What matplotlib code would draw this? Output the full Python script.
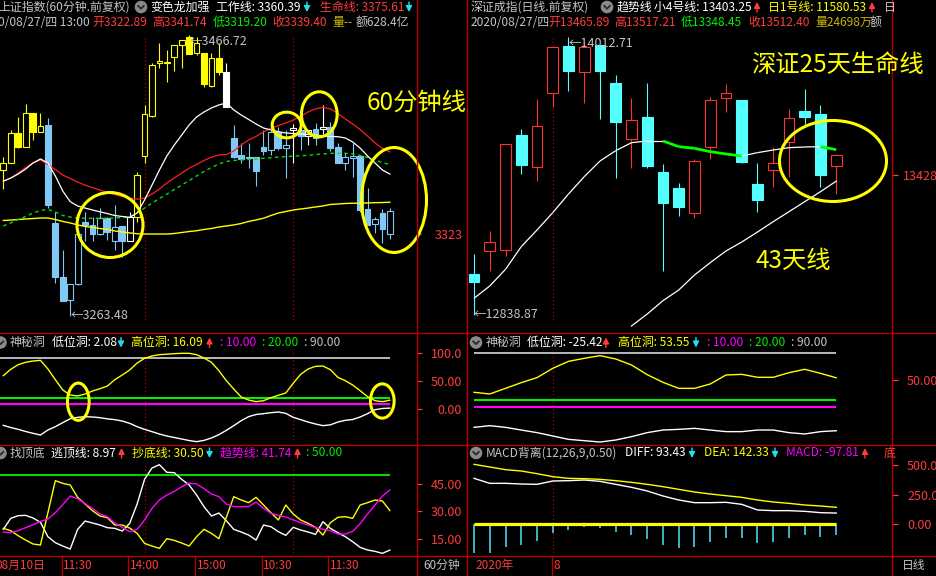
import numpy as np
import matplotlib
matplotlib.use('Agg')
import matplotlib.pyplot as plt
from matplotlib.patches import Ellipse, Circle, Rectangle
from matplotlib.collections import LineCollection

plt.rcParams['font.family'] = ['Noto Sans CJK SC', 'DejaVu Sans']
plt.rcParams['axes.unicode_minus'] = False

# ---------------- data: 上证指数 60分钟 ----------------
sh_open = [3369.1, 3374.3, 3395.6, 3385.4, 3410.0, 3396.8, 3401.6, 3330.5, 3291.9, 3275.0,
           3286.4, 3331.2, 3329.3, 3322.8, 3334.1, 3317.9, 3328.6, 3317.9, 3335.3, 3379.4,
           3408.1, 3446.2, 3446.7, 3451.0, 3459.5, 3465.0, 3453.4, 3453.4, 3430.0, 3449.8,
           3440.2, 3391.9, 3379.9, 3378.2, 3378.7, 3385.9, 3383.5, 3396.8, 3384.9, 3398.0,
           3398.0, 3393.6, 3398.5, 3398.7, 3400.4, 3385.9, 3374.3, 3377.7, 3379.2, 3340.6,
           3330.0, 3337.7, 3322.89]
sh_high = [3378.7, 3398.0, 3407.1, 3416.8, 3410.0, 3410.0, 3406.4, 3338.9, 3311.2, 3286.4,
           3325.7, 3338.9, 3335.3, 3341.3, 3335.3, 3343.7, 3328.6, 3338.9, 3367.8, 3416.1,
           3446.2, 3460.7, 3455.9, 3459.5, 3463.1, 3466.72, 3465.5, 3453.4, 3453.4, 3461.1,
           3446.2, 3401.6, 3388.3, 3388.3, 3378.7, 3398.0, 3398.0, 3400.4, 3398.0, 3402.3,
           3400.4, 3398.0, 3402.8, 3416.1, 3404.0, 3388.3, 3381.1, 3388.3, 3379.9, 3355.8,
           3335.3, 3340.8, 3341.74]
sh_low = [3355.1, 3373.9, 3384.7, 3385.4, 3390.7, 3396.8, 3341.3, 3287.1, 3274.6, 3263.48,
          3285.9, 3317.9, 3317.9, 3322.0, 3318.4, 3311.2, 3306.4, 3317.9, 3331.7, 3374.3,
          3407.6, 3442.6, 3433.0, 3440.9, 3442.6, 3453.0, 3452.2, 3429.3, 3429.3, 3437.8,
          3414.4, 3378.0, 3373.9, 3370.3, 3357.5, 3379.9, 3379.9, 3383.5, 3363.0, 3373.9,
          3383.5, 3387.1, 3387.1, 3395.1, 3383.0, 3374.3, 3369.1, 3364.2, 3338.9, 3329.3,
          3323.2, 3316.0, 3319.20]
sh_close = [3373.9, 3396.0, 3385.4, 3410.0, 3396.8, 3401.1, 3343.7, 3291.9, 3274.6, 3286.4,
            3322.8, 3329.3, 3322.8, 3334.1, 3324.0, 3328.1, 3317.9, 3335.3, 3365.4, 3409.3,
            3445.0, 3447.9, 3447.4, 3459.5, 3463.1, 3453.0, 3460.7, 3431.2, 3449.8, 3440.2,
            3414.8, 3378.7, 3376.8, 3377.5, 3368.6, 3383.0, 3396.8, 3384.7, 3386.9, 3399.2,
            3393.6, 3398.0, 3391.9, 3399.9, 3384.7, 3374.3, 3378.7, 3379.4, 3340.1, 3329.3,
            3333.4, 3326.1, 3339.40]
# 变色龙 colour of each candle: y=yellow, b=blue, w=white
sh_color = list('yyyyyybbbbbbbbbbbwyyyyyyyyyyyywbbbbbbbbwbwbwbbbbbbbbb')
sh_work = [3361.0, 3363.2, 3366.1, 3369.7, 3374.1, 3377.0, 3374.1, 3364.7, 3353.8, 3346.1,
           3343.0, 3341.5, 3340.1, 3338.8, 3337.5, 3336.1, 3335.4, 3334.8, 3337.9, 3347.3,
           3358.1, 3369.0, 3379.2, 3387.1, 3394.3, 3401.6, 3407.4, 3411.0, 3413.9, 3416.1,
           3417.5, 3412.5, 3408.8, 3405.6, 3402.3, 3399.4, 3398.0, 3396.7, 3395.8, 3395.4,
           3395.1, 3394.7, 3394.3, 3393.6, 3393.3, 3393.1, 3392.2, 3389.3, 3384.9, 3379.2,
           3374.1, 3369.0, 3366.1]
sh_life = [3360.7, 3363.2, 3366.8, 3370.8, 3374.1, 3376.3, 3373.0, 3369.4, 3365.4, 3362.9,
           3360.3, 3358.1, 3356.3, 3354.5, 3352.7, 3351.3, 3349.8, 3348.7, 3348.0, 3348.7,
           3351.6, 3355.3, 3359.6, 3363.2, 3366.8, 3370.4, 3373.0, 3375.9, 3378.4, 3379.9,
           3380.2, 3382.8, 3387.1, 3390.8, 3393.3, 3396.7, 3399.1, 3401.2, 3403.0, 3405.2,
           3407.8, 3411.0, 3413.2, 3414.4, 3413.2, 3409.9, 3406.0, 3402.3, 3398.3, 3393.6,
           3388.6, 3384.6, 3382.1]
sh_ma_green = [3328.5, 3330.7, 3333.2, 3335.4, 3337.9, 3339.7, 3340.5, 3338.7, 3336.1, 3335.0,
               3334.3, 3334.1, 3334.1, 3334.1, 3334.1, 3334.3, 3334.6, 3335.0, 3337.9, 3341.5,
               3345.1, 3348.4, 3351.6, 3354.9, 3358.1, 3361.4, 3364.7, 3367.9, 3370.8, 3373.4,
               3375.2, 3375.9, 3376.3, 3376.6, 3377.0, 3377.5, 3377.9, 3378.3, 3378.7, 3379.0,
               3379.4, 3379.7, 3380.2, 3380.6, 3381.1, 3381.1, 3381.1, 3380.7, 3379.5, 3378.1,
               3376.3, 3374.4, 3373.0]
sh_ma_yellow = [3332.5, 3332.8, 3333.2, 3333.6, 3333.9, 3334.3, 3334.3, 3333.2, 3331.8, 3330.7,
                3329.3, 3328.2, 3327.5, 3326.7, 3326.0, 3324.9, 3324.2, 3323.5, 3322.9, 3322.7,
                3322.7, 3322.7, 3322.7, 3323.1, 3323.8, 3324.5, 3325.1, 3326.0, 3326.7, 3327.8,
                3328.5, 3329.3, 3330.3, 3331.8, 3332.9, 3334.1, 3336.1, 3337.9, 3339.0, 3340.1,
                3340.8, 3341.5, 3342.3, 3343.0, 3344.1, 3344.4, 3344.8, 3345.0, 3345.0, 3345.2,
                3345.4, 3345.5, 3345.7]
# 神秘洞
sh_high_hole = [59.4, 70.6, 78.8, 83.0, 85.3, 86.5, 71.2, 52.3, 34.1, 25.2,
                23.5, 27.0, 32.3, 36.4, 41.1, 52.3, 60.6, 69.4, 81.8, 90.0,
                94.2, 96.5, 97.4, 98.3, 98.9, 98.9, 96.5, 90.6, 83.0, 68.2,
                50.6, 35.8, 21.7, 16.4, 13.5, 15.2, 20.5, 24.7, 28.8, 45.9,
                61.8, 71.2, 75.9, 76.5, 70.0, 56.5, 50.6, 42.9, 32.9, 22.3,
                15.2, 13.5, 16.09]
sh_low_hole = [-28.4, -32.2, -35.4, -39.2, -42.5, -45.4, -36.6, -30.7, -23.6, -16.6,
               -14.2, -13.0, -13.6, -14.8, -16.9, -18.3, -20.7, -24.8, -30.7, -35.4,
               -39.5, -43.7, -47.2, -49.8, -52.5, -55.2, -57.2, -54.9, -50.7, -44.8,
               -37.2, -28.9, -20.1, -13.0, -9.2, -7.7, -6.0, -4.8, -7.2, -14.2,
               -18.3, -22.5, -26.0, -28.9, -27.5, -22.5, -19.5, -18.0, -13.6, -7.7,
               -0.7, 1.4, 2.08]
# 找顶底
sh_escape = [20.25, 26.25, 27.70, 27.88, 26.43, 24.07, 16.26, 12.99, 11.17, 9.54,
             20.25, 24.79, 23.70, 22.61, 21.16, 20.80, 19.34, 23.52, 34.05, 47.49,
             53.67, 55.48, 51.31, 51.12, 47.49, 44.40, 38.96, 32.60, 27.52, 29.15,
             24.97, 20.25, 18.80, 17.16, 14.44, 22.61, 21.70, 18.98, 16.98, 21.34,
             19.89, 18.80, 17.53, 24.43, 20.80, 18.44, 16.26, 13.53, 10.45, 9.0,
             8.27, 7.18, 8.97]
sh_bottom = [20.80, 19.53, 16.80, 14.44, 12.26, 11.72, 29.33, 46.77, 45.31, 44.40,
             37.69, 34.05, 30.42, 27.52, 26.61, 22.61, 22.61, 20.98, 18.07, 12.62,
             11.17, 9.90, 15.17, 14.26, 12.81, 11.17, 16.26, 20.25, 18.07, 15.17,
             26.79, 38.05, 36.23, 34.78, 37.69, 33.51, 29.33, 25.34, 33.51, 28.60,
             25.34, 23.52, 21.34, 17.16, 23.88, 26.79, 27.15, 26.25, 33.51, 34.78,
             36.23, 35.69, 30.50]
sh_trend = [18.80, 18.44, 19.53, 21.16, 22.79, 24.61, 25.88, 29.33, 33.69, 38.41,
            36.96, 34.23, 31.69, 28.60, 27.15, 23.70, 21.34, 18.98, 20.25, 25.34,
            31.69, 36.23, 38.96, 40.95, 43.50, 45.49, 44.95, 42.41, 39.50, 38.05,
            34.05, 32.60, 32.60, 32.60, 35.14, 31.69, 28.97, 27.88, 26.97, 25.34,
            23.88, 22.61, 21.16, 20.25, 19.53, 17.71, 17.71, 19.16, 23.34, 28.60,
            33.51, 38.41, 41.74]
sh_week_marks = [19, 39]
sh_time_labels = ['08月10日', '11:30', '14:00', '15:00', '10:30', '11:30']

# ---------------- data: 深证成指 日线 ----------------
sz_open = [13010.3, 13108.8, 13113.0, 13598.0, 13464.4, 13773.7, 13973.3, 13862.3, 13977.5, 13815.9,
           13579.7, 13672.5, 13440.5, 13373.0, 13270.4, 13546.0, 13752.6, 13745.6, 13391.3, 13450.4,
           13567.0, 13699.2, 13686.5, 13465.89]
sz_high = [13096.1, 13193.1, 13558.6, 13623.3, 13749.8, 13967.7, 14012.71, 13991.6, 13977.5, 13851.0,
           13752.6, 13815.9, 13475.7, 13394.1, 13496.8, 13759.6, 13813.1, 13745.6, 13478.5, 13546.0,
           13706.2, 13790.6, 13724.5, 13517.21]
sz_low = [12838.87, 13025.8, 13089.1, 13433.5, 13405.4, 13717.5, 13783.5, 13734.3, 13665.5, 13415.2,
          13460.2, 13457.4, 13025.8, 13256.4, 13246.5, 13495.3, 13696.4, 13478.5, 13274.6, 13377.3,
          13422.2, 13633.1, 13380.1, 13348.45]
sz_close = [12979.4, 13145.3, 13558.6, 13471.5, 13637.3, 13967.7, 13867.9, 13967.7, 13867.9, 13654.2,
            13661.2, 13468.6, 13312.6, 13295.7, 13489.7, 13745.6, 13773.7, 13485.5, 13323.8, 13478.5,
            13668.3, 13675.3, 13429.3, 13512.40]
sz_life25 = [12909.1, 12961.1, 13031.4, 13127.0, 13197.3, 13270.4, 13349.1, 13422.2, 13488.3, 13531.9,
             13565.6, 13572.7, 13572.7, 13548.8, 13541.7, 13527.7, 13517.8, 13509.4, 13523.5, 13534.7,
             13544.6, 13547.4, 13548.8, 13536.1]
sz_ma43 = [np.nan] * 10 + [12792.5, 12843.1, 12899.3, 12944.3, 13007.5, 13059.6, 13108.8, 13146.7,
                           13188.9, 13232.5, 13274.6, 13316.8, 13359.0, 13403.25]
sz_high_hole = [31.9, 29.4, 37.8, 46.3, 53.8, 67.7, 78.1, 82.6, 86.6, 81.6, 72.7, 58.2,
                46.8, 37.8, 37.8, 44.3, 57.7, 58.7, 54.3, 54.3, 61.2, 66.2, 60.2, 53.55]
sz_low_hole = [-20.4, -17.9, -20.4, -24.4, -28.3, -33.3, -38.3, -40.3, -42.3, -39.3, -34.3, -28.3,
               -24.4, -23.4, -21.9, -24.4, -26.8, -26.8, -24.4, -24.4, -28.3, -30.3, -26.8, -25.42]
sz_diff = [389.6, 347.0, 347.0, 341.3, 338.4, 366.9, 369.7, 375.4, 364.0, 338.4, 312.9, 281.6,
           238.9, 204.8, 182.0, 182.0, 184.9, 167.8, 119.5, 113.8, 113.8, 108.1, 96.7, 93.43]
sz_dea = [509.1, 486.3, 463.6, 452.2, 429.5, 403.9, 389.6, 386.8, 381.1, 369.7, 355.5, 338.4,
          318.5, 295.8, 273.0, 256.0, 241.7, 227.5, 204.8, 187.7, 176.3, 162.1, 153.6, 142.33]
sz_macd = [-244.6, -250.3, -199.1, -179.2, -145.0, -79.6, -51.2, -28.4, -37.0, -71.1, -93.8, -130.8,
           -179.2, -207.6, -193.4, -150.7, -119.4, -122.3, -159.3, -150.7, -122.3, -93.8, -108.1, -97.81]
sz_month_marks = [5]
sz_time_labels = ['2020年', '8']

hole_levels = [10, 20, 90]
trend_level = 50

# ---------------- styling ----------------
W, H = 936, 576
SEP = '#b40000'
TRED = '#ff3c3c'
GREY = '#c4c4c4'
WHITE = '#ffffff'
YEL = '#ffff00'
GRN = '#00f000'
MAG = '#ff00ff'
CYAN = '#22e0f0'
OLIVE = '#c8b400'
BLUE = '#80c8f6'
CYAN_K = '#54ffff'
RED_K = '#ff3232'
K_COLORS = {'y': YEL, 'b': BLUE, 'w': WHITE}
HF = 8.6   # header font size

fig = plt.figure(figsize=(W / 100, H / 100), dpi=100, facecolor='black')


def panel(x0, y0, x1, y1, xlim, ylim):
    ax = fig.add_axes([x0 / W, 1 - y1 / H, (x1 - x0) / W, (y1 - y0) / H])
    ax.patch.set_alpha(0)
    ax.set_xlim(*xlim)
    ax.set_ylim(*ylim)
    for s in ax.spines.values():
        s.set_visible(False)
    ax.xaxis.set_visible(False)
    ax.yaxis.tick_right()
    ax.set_yticks([])
    return ax


def yticks(ax, vals, labels, ha, pad_px, len_px):
    ax.set_yticks(vals)
    ax.set_yticklabels(labels)
    ax.tick_params(axis='y', colors=TRED, labelcolor=TRED, labelsize=9,
                   length=len_px * 0.72, width=0.9, pad=pad_px * 0.72)
    for t in ax.get_yticklabels():
        t.set_ha(ha)
        t.set_clip_on(False)


def candles(ax, o, h, l, c, cols, width):
    x = np.arange(len(o))
    for i in range(len(o)):
        col = cols[i]
        up = c[i] >= o[i]
        ax.vlines(x[i], l[i], h[i], color=col, lw=0.8, zorder=2)
        ax.bar(x[i], abs(c[i] - o[i]), width, min(o[i], c[i]),
               facecolor='black' if up else col, edgecolor=col, lw=0.8, zorder=3)


XL = (-0.444, 55.61)
XR = (-0.381, 26.54)
axL = panel(0, 28, 416.7, 333, XL, (3251.1, 3471.75))
axR = panel(468, 28, 892, 333, XR, (12762.9, 14049.2))
axL1 = panel(0, 333, 416.7, 444.5, XL, (-62.2, 134.8))
axR1 = panel(468, 333, 892, 444.5, XR, (-46.0, 120.4))
axL2 = panel(0, 444.5, 416.7, 556, XL, (5.74, 66.47))
axR2 = panel(468, 444.5, 892, 556, XR, (-273.0, 678.3))

yticks(axL, [3323], ['3323'], 'left', 13.6, 4)
yticks(axR, [13428], ['13428'], 'left', 5.5, 5.5)
yticks(axL1, [0, 50, 100], ['0.00', '50.00', '100.0'], 'right', 40.8, 4.5)
yticks(axL2, [15, 30, 45], ['15.00', '30.00', '45.00'], 'right', 40.8, 4.5)
yticks(axR1, [50], ['50.00'], 'left', 9.5, 5.5)
yticks(axR2, [0, 250, 500], ['0.00', '250.00', '500.00'], 'left', 9.5, 5.5)

DOT = (0, (1, 2))
for ax, lo, hi in [(axL, 0.043, 0.977), (axL1, 0.04, 0.83), (axL2, 0.027, 0.83)]:
    for m in sh_week_marks:
        ax.axvline(m, lo, hi, color=SEP, ls=DOT, lw=0.9, zorder=1)
for ax, lo, hi in [(axR, 0.043, 0.977), (axR1, 0.04, 0.83), (axR2, 0.027, 0.83)]:
    for m in sz_month_marks:
        ax.axvline(m, lo, hi, color=SEP, ls=DOT, lw=0.9, zorder=1)

# ---- left main
nL = len(sh_open)
xL = np.arange(nL)
candles(axL, sh_open, sh_high, sh_low, sh_close, [K_COLORS[k] for k in sh_color], 0.78)
axL.plot(xL, sh_ma_yellow, color=YEL, lw=1.0, zorder=4)
axL.plot(xL, sh_ma_green, color='#00e000', lw=1.0, ls=(0, (2.5, 2.5)), zorder=4)
axL.plot(xL, sh_life, color='#ff1e1e', lw=0.9, zorder=4)
axL.plot(xL, sh_work, color=WHITE, lw=0.9, zorder=4)
iH = int(np.argmax(sh_high)); iLo = int(np.argmin(sh_low))
axL.text(iH, sh_high[iH], '←%.2f' % sh_high[iH], color=GREY, fontsize=9, va='top', ha='left', zorder=5)
axL.text(iLo, sh_low[iLo], '←%.2f' % sh_low[iLo], color=GREY, fontsize=9, va='center', ha='left', zorder=5)

# ---- right main
nR = len(sz_open)
xR = np.arange(nR)
candles(axR, sz_open, sz_high, sz_low, sz_close,
        [RED_K if c >= o else CYAN_K for o, c in zip(sz_open, sz_close)], 0.68)
pts = np.column_stack([xR, sz_life25])
segs = [pts[i:i + 2] for i in range(nR - 1)]
seg_down = [sz_life25[i + 1] < sz_life25[i] for i in range(nR - 1)]
axR.add_collection(LineCollection(segs, colors=['#00ff00' if d else WHITE for d in seg_down],
                                  linewidths=[2.0 if d else 0.9 for d in seg_down], zorder=4))
axR.plot(xR, sz_ma43, color=WHITE, lw=0.9, zorder=4)
jH = int(np.argmax(sz_high)); jLo = int(np.argmin(sz_low))
axR.text(jH, sz_high[jH], '←%.2f' % sz_high[jH], color=GREY, fontsize=9, va='top', ha='left', zorder=5)
axR.text(jLo, sz_low[jLo], '←%.2f' % sz_low[jLo], color=GREY, fontsize=9, va='center', ha='left', zorder=5)

# ---- 神秘洞 panels
lev_cols = [MAG, GRN, '#d8d8d8']
lev_lw = [1.5, 1.5, 1.2]
for lv, c, w in zip(hole_levels, lev_cols, lev_lw):
    axL1.hlines(lv, XL[0], nL - 1, color=c, lw=w, zorder=2)
    axR1.hlines(lv, 0, nR - 1, color=c, lw=w, zorder=2)
axL1.plot(xL, sh_high_hole, color=YEL, lw=1.0, zorder=3)
axL1.plot(xL, sh_low_hole, color=WHITE, lw=1.0, zorder=3)
axR1.plot(xR, sz_high_hole, color=YEL, lw=1.0, zorder=3)
axR1.plot(xR, sz_low_hole, color=WHITE, lw=1.0, zorder=3)

# ---- 找顶底
axL2.hlines(trend_level, XL[0], nL - 1, color=GRN, lw=1.3, zorder=2)
axL2.plot(xL, sh_escape, color=WHITE, lw=1.0, zorder=3)
axL2.plot(xL, sh_bottom, color=YEL, lw=1.0, zorder=3)
axL2.plot(xL, sh_trend, color=MAG, lw=1.0, zorder=3)

# ---- MACD
axR2.vlines(xR, 0, sz_macd, color='#4ee8f8', lw=1.1, zorder=2)
axR2.hlines(0, 0, nR - 1, color=YEL, lw=2.3, zorder=3)
axR2.plot(xR, sz_diff, color=WHITE, lw=1.0, zorder=3)
axR2.plot(xR, sz_dea, color=YEL, lw=1.0, zorder=3)

# ---------------- overlay (frame, texts, marks) ----------------
ov = fig.add_axes([0, 0, 1, 1])
ov.set_xlim(0, W)
ov.set_ylim(H, 0)
ov.axis('off')
ov.patch.set_alpha(0)

for x in (416.7, 467.2, 892.0):
    ov.plot([x, x], [0, H], color=SEP, lw=1.0)
for y in (333.0, 444.5, 556.0):
    ov.plot([0, W], [y, y], color=SEP, lw=1.0)
for x in (61.7, 128.3, 195.0, 261.7, 328.3, 552.0):
    ov.plot([x, x], [556, H], color=SEP, lw=1.0)


def T(x, y, s, c, ha='left', size=HF, clip=None):
    t = ov.text(x, y, s, color=c, ha=ha, va='center', fontsize=size)
    if clip is not None:
        t.set_clip_path(Rectangle((clip[0], 0), clip[1] - clip[0], H, transform=ov.transData))
    return t


def arrow(x, y, up, c):
    # thin vertical arrow like the quote-board markers
    y0, y1 = (y + 5, y - 5) if up else (y - 5, y + 5)
    ov.annotate('', xy=(x, y1), xytext=(x, y0),
                arrowprops=dict(arrowstyle='-|>,head_width=0.18,head_length=0.35',
                                color=c, lw=1.0, shrinkA=0, shrinkB=0))


def icon(cx, cy):
    ov.add_patch(Circle((cx, cy), 5.6, color='#8a8a8a'))
    ov.plot([cx - 2.8, cx, cx + 2.8], [cy - 1.1, cy + 1.7, cy - 1.1], color='#2a2a2a', lw=1.3)


# left header
r1, r2 = 7.0, 22.5
T(130, r1, '上证指数(60分钟.前复权)', GREY, ha='right')
icon(141, r1)
T(150, r1, '变色龙加强', WHITE)
T(216, r1, '工作线: 3360.39', WHITE)
arrow(307, r1, False, CYAN)
T(320, r1, '生命线: 3375.61', TRED)
arrow(409, r1, False, CYAN)
T(89.5, r2, '2020/08/27/四 13:00', GREY, ha='right')
T(92.7, r2, '开3322.89', TRED)
T(152.7, r2, '高3341.74', TRED)
T(212.7, r2, '低3319.20', GRN)
T(272.7, r2, '收3339.40', TRED)
T(332.7, r2, '量--', OLIVE)
T(356, r2, '额628.4亿', GREY)

# right header
T(471, r1, '深证成指(日线.前复权)', GREY)
icon(607, r1)
T(617, r1, '趋势线', WHITE)
T(654, r1, '小4号线: 13403.25', WHITE)
arrow(757, r1, True, TRED)
T(768, r1, '日1号线: 11580.53', YEL)
arrow(872, r1, True, TRED)
T(884, r1, '日', GREY, clip=(468, 891))
T(471, r2, '2020/08/27/四', GREY)
T(548, r2, '开13465.89', TRED)
T(614, r2, '高13517.21', TRED)
T(681, r2, '低13348.45', GRN)
T(748, r2, '收13512.40', TRED)
T(815, r2, '量24698万', OLIVE)
T(870, r2, '额', GREY)

# indicator headers
y1, y2 = 342.5, 453.0
icon(0.5, y1)
T(10, y1, '神秘洞', GREY)
T(52, y1, '低位洞: 2.08', WHITE)
arrow(121, y1, False, CYAN)
T(131, y1, '高位洞: 16.09', YEL)
arrow(209.5, y1, True, TRED)
T(220, y1, ': 10.00', MAG)
T(262, y1, ': 20.00', GRN)
T(304, y1, ': 90.00', GREY)

icon(0.5, y2)
T(10, y2, '找顶底', GREY)
T(51, y2, '逃顶线: 8.97', WHITE)
arrow(121.5, y2, True, TRED)
T(132, y2, '抄底线: 30.50', YEL)
arrow(209.5, y2, False, CYAN)
T(220, y2, '趋势线: 41.74', MAG)
arrow(297.5, y2, True, TRED)
T(306, y2, ': 50.00', GRN)

icon(476, y1)
T(486, y1, '神秘洞', GREY)
T(527, y1, '低位洞: -25.42', WHITE)
arrow(606, y1, True, TRED)
T(618, y1, '高位洞: 53.55', YEL)
arrow(696, y1, False, CYAN)
T(707, y1, ': 10.00', MAG)
T(749, y1, ': 20.00', GRN)
T(791, y1, ': 90.00', GREY)

icon(476, y2)
T(486, y2, 'MACD背离(12,26,9,0.50)', GREY)
T(625, y2, 'DIFF: 93.43', WHITE)
arrow(692, y2, False, CYAN)
T(704, y2, 'DEA: 142.33', YEL)
arrow(775, y2, False, CYAN)
T(786, y2, 'MACD: -97.81', MAG)
arrow(865, y2, True, TRED)
T(884, y2, '底', TRED, clip=(468, 891))

# time axis
yb = 565.5
T(45, yb, sh_time_labels[0], TRED, ha='right', size=8.5)
for x, s in zip((63, 130, 197, 263, 330), sh_time_labels[1:]):
    T(x, yb, s, TRED, size=8.5)
T(441.9, yb, '60分钟', GREY, ha='center', size=8.5)
T(475, yb, sz_time_labels[0], TRED, size=8.5)
T(554, yb, sz_time_labels[1], TRED, size=8.5)
T(914, yb, '日线', GREY, ha='center', size=8.5)

# hand-drawn annotations
for (cx, cy, w, h) in [(110, 225, 66, 65), (286.7, 125, 29, 25.7), (319.3, 114.3, 35.7, 45),
                       (394, 200, 65, 105), (78.3, 401.7, 21.7, 37.3), (382.3, 401, 23.7, 34.3),
                       (833, 161, 107, 81)]:
    ov.add_patch(Ellipse((cx, cy), w, h, fill=False, edgecolor=YEL, lw=2.2))
T(367, 102.5, '60分钟线', YEL, size=17.5)
T(751, 65, '深证25天生命线', YEL, size=17.5)
T(756, 261, '43天线', YEL, size=17.5)

fig.savefig('out.png', dpi=100, facecolor='black')
